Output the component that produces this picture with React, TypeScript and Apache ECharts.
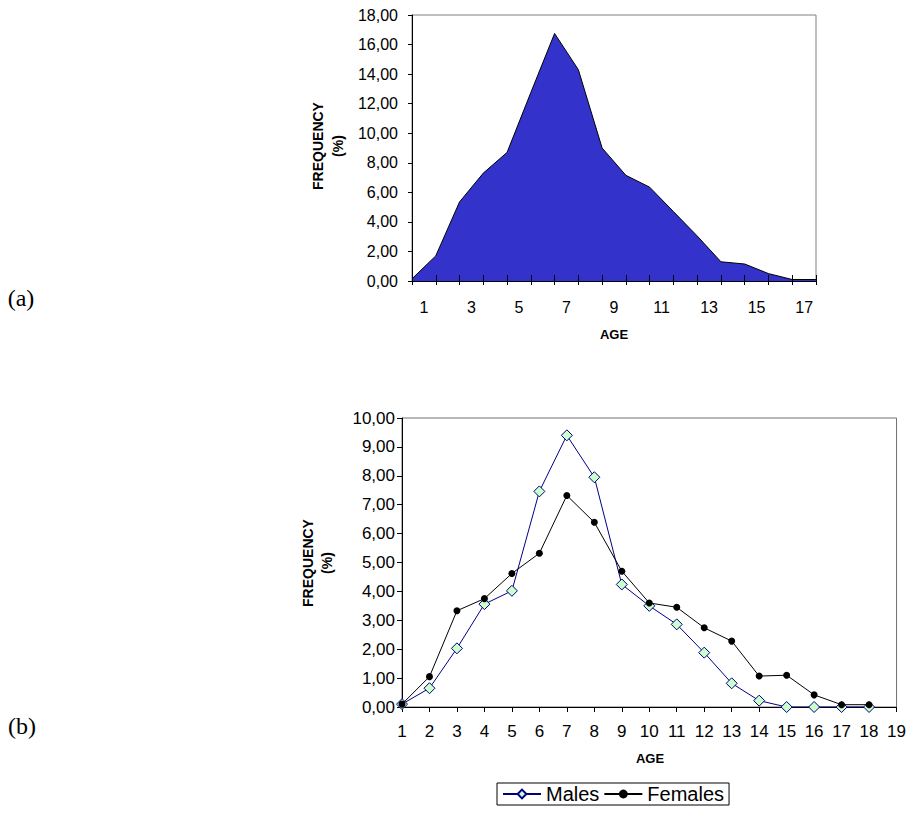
import React, { useEffect, useRef } from 'react';
import * as echarts from 'echarts';

// ---- Data ----
// (a) overall frequency distribution by age
const topAges = [1, 2, 3, 4, 5, 6, 7, 8, 9, 10, 11, 12, 13, 14, 15, 16, 17, 18];
const topFreq = [0.15, 1.7, 5.35, 7.3, 8.7, 12.75, 16.75, 14.3, 9.0, 7.15, 6.35, 4.7, 3.05, 1.3, 1.15, 0.5, 0.1, 0.1];
const topAgeLabels = ['1', '2', '3', '4', '5', '6', '7', '8', '9', '10', '11', '12', '13', '14', '15', '16', '17'];

// (b) by sex
const bottomAges = [1, 2, 3, 4, 5, 6, 7, 8, 9, 10, 11, 12, 13, 14, 15, 16, 17, 18];
const males = [0.1, 0.65, 2.03, 3.56, 4.02, 7.46, 9.4, 7.95, 4.24, 3.5, 2.86, 1.88, 0.82, 0.22, 0, 0, 0, 0];
const females = [0.1, 1.05, 3.33, 3.75, 4.62, 5.32, 7.32, 6.39, 4.7, 3.6, 3.45, 2.74, 2.28, 1.07, 1.1, 0.42, 0.08, 0.08];

const FONT = '"Liberation Sans", Arial, sans-serif';
const SERIF = '"Liberation Serif", "Times New Roman", serif';
const fmt = (v: number) => v.toFixed(2).replace('.', ',');

const txt = (x: number, y: number, text: string, size: number, bold: boolean, rot = 0, family = FONT) => ({
  type: 'text',
  x,
  y,
  rotation: rot,
  style: {
    text,
    fill: '#000',
    fontSize: size,
    fontWeight: bold ? 'bold' : 'normal',
    fontFamily: family,
    align: 'center',
    verticalAlign: 'middle',
    textAlign: 'center',
    textVerticalAlign: 'middle',
  },
});

export default function App() {
  const ref = useRef<HTMLDivElement>(null);
  useEffect(() => {
    if (!ref.current) return;
    const chart = echarts.init(ref.current, undefined, { renderer: 'svg' });
    const blackLine = { lineStyle: { color: '#000', width: 1 } };
    const option: any = {
      animation: false,
      backgroundColor: '#fff',
      textStyle: { fontFamily: FONT },
      grid: [
        { left: 412, top: 15, width: 404, height: 266, show: true, borderColor: '#808080', borderWidth: 1, backgroundColor: 'transparent' },
        { left: 402, top: 418, width: 497, height: 289, show: true, borderColor: '#707070', borderWidth: 1, backgroundColor: 'transparent' },
      ],
      xAxis: [
        {
          gridIndex: 0, type: 'value', min: 1, max: 18, interval: 1, position: 'bottom',
          axisLine: { show: true, onZero: false, ...blackLine },
          axisTick: { show: true, length: 4, ...blackLine },
          axisLabel: { show: false }, splitLine: { show: false },
        },
        {
          gridIndex: 0, type: 'value', min: 1, max: 18, interval: 1, position: 'bottom', z: 5,
          axisLine: { show: false, onZero: false },
          axisTick: { show: true, inside: true, length: 6, ...blackLine },
          axisLabel: { show: false }, splitLine: { show: false },
        },
        {
          gridIndex: 0, type: 'category', data: topAgeLabels, boundaryGap: true, position: 'bottom',
          axisLine: { show: false, onZero: false }, axisTick: { show: false },
          axisLabel: { interval: 1, color: '#000', fontSize: 16, fontFamily: FONT, margin: 18 },
          splitLine: { show: false },
        },
        {
          gridIndex: 1, type: 'value', min: 1, max: 19, interval: 1, position: 'bottom',
          axisLine: { show: true, onZero: false, ...blackLine },
          axisTick: { show: true, length: 5, ...blackLine },
          axisLabel: { color: '#000', fontSize: 17, fontFamily: FONT, margin: 16 },
          splitLine: { show: false },
        },
      ],
      yAxis: [
        {
          gridIndex: 0, type: 'value', min: 0, max: 18, interval: 2,
          axisLine: { show: true, ...blackLine },
          axisTick: { show: true, length: 4, ...blackLine },
          axisLabel: { formatter: fmt, color: '#000', fontSize: 16, fontFamily: FONT, margin: 14 },
          splitLine: { show: false },
        },
        {
          gridIndex: 1, type: 'value', min: 0, max: 10, interval: 1,
          axisLine: { show: true, ...blackLine },
          axisTick: { show: true, length: 5, ...blackLine },
          axisLabel: { formatter: fmt, color: '#000', fontSize: 17, fontFamily: FONT, margin: 7 },
          splitLine: { show: false },
        },
      ],
      legend: {
        data: ['Males', 'Females'],
        left: 497,
        top: 783,
        orient: 'horizontal',
        backgroundColor: '#fff',
        borderColor: '#000',
        borderWidth: 1,
        padding: [1, 5],
        itemWidth: 38,
        itemHeight: 11,
        itemGap: 4,
        textStyle: { fontSize: 20, color: '#000', fontFamily: FONT },
      },
      series: [
        {
          name: 'All',
          type: 'line',
          xAxisIndex: 0,
          yAxisIndex: 0,
          data: topAges.map((a, i) => [a, topFreq[i]]),
          symbol: 'none',
          lineStyle: { color: '#000', width: 1 },
          areaStyle: { color: '#3333CC', opacity: 1 },
          z: 2,
        },
        {
          name: 'Males',
          type: 'line',
          xAxisIndex: 3,
          yAxisIndex: 1,
          data: bottomAges.map((a, i) => [a, males[i]]),
          symbol: 'diamond',
          symbolSize: 11,
          itemStyle: { color: '#CCFFCC', borderColor: '#000080', borderWidth: 1 },
          lineStyle: { color: '#000080', width: 1 },
          z: 3,
        },
        {
          name: 'Females',
          type: 'line',
          xAxisIndex: 3,
          yAxisIndex: 1,
          data: bottomAges.map((a, i) => [a, females[i]]),
          symbol: 'circle',
          symbolSize: 7,
          itemStyle: { color: '#000', borderColor: '#000', borderWidth: 0 },
          lineStyle: { color: '#000', width: 1 },
          z: 4,
        },
      ],
      graphic: [
        txt(318, 146, 'FREQUENCY', 14, true, Math.PI / 2),
        txt(338, 146, '(%)', 14, true, Math.PI / 2),
        txt(614, 334, 'AGE', 13, true),
        txt(308, 563, 'FREQUENCY', 14, true, Math.PI / 2),
        txt(327, 563, '(%)', 14, true, Math.PI / 2),
        txt(650, 758, 'AGE', 13, true),
        txt(21, 298, '(a)', 24, false, 0, SERIF),
        txt(22, 726, '(b)', 24, false, 0, SERIF),
      ],
    };
    chart.setOption(option);
    return () => chart.dispose();
  }, []);
  return <div ref={ref} style={{ position: 'absolute', left: 0, top: 0, width: 909, height: 816 }} />;
}
